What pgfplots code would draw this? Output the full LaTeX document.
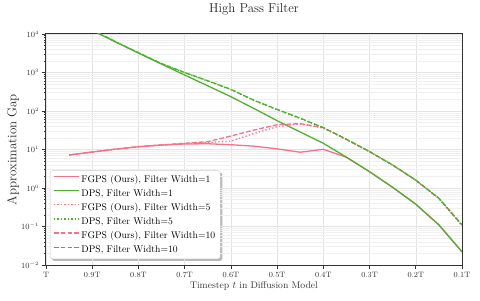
\documentclass[border=0pt]{standalone}
\usepackage{pgfplots}
\pgfplotsset{compat=1.18}
\pgfdeclarelayer{background}
\pgfsetlayers{background,main}
\definecolor{cpink}{HTML}{F77189}
\definecolor{cgreen}{HTML}{50B131}
\newcommand{\lf}{\fontsize{9.7}{11}\selectfont}
\begin{document}
\begin{tikzpicture}[x=1bp,y=1bp]
\path[use as bounding box] (0,0) rectangle (480,300);
\begin{axis}[
  at={(46bp,35bp)}, anchor=south west,
  scale only axis, width=416bp, height=231bp,
  ymode=log, xmin=0.1, xmax=1, ymin=1e-2, ymax=1e4,
  x dir=reverse,
  xtick={1,0.9,0.8,0.7,0.6,0.5,0.4,0.3,0.2,0.1},
  xticklabels={T,0.9T,0.8T,0.7T,0.6T,0.5T,0.4T,0.3T,0.2T,0.1T},
  ytick={1e-2,1e-1,1,10,100,1000,10000},
  tick label style={font=\fontsize{7.8}{9}\selectfont, text=black!80},
  tick align=outside, tick pos=left,
  major tick length=3.5bp, minor tick length=2bp,
  every tick/.style={black!80, line width=0.6pt},
  grid=both,
  major grid style={gray!22, line width=0.4pt},
  minor grid style={gray!12, line width=0.3pt},
  xminorgrids=false,
  axis line style={black!80, line width=1pt},
  title={High Pass Filter},
  title style={font=\fontsize{12.9}{14}\selectfont, at={(axis description cs:0.5,1.0823)}, anchor=center, text=black!85},
  xlabel={Timestep $t$ in Diffusion Model},
  xlabel style={font=\fontsize{9.7}{11}\selectfont, at={(axis description cs:0.5,-0.0909)}, anchor=center, text=black!80},
  ylabel={Approximation Gap},
  ylabel style={font=\fontsize{13}{14}\selectfont, at={(axis description cs:-0.0793,0.5)}, anchor=center, text=black!85},
  legend style={name=leg, at={(axis description cs:0.0096,0.026)}, anchor=south west, font=\lf,
    draw=gray!40, fill=white, rounded corners=2.5pt,
    row sep=1.6bp, column sep=0bp, inner xsep=3bp, inner ysep=2.5bp,
    nodes={font=\lf, inner sep=2bp, text depth=0.15em}},
  legend cell align=left,
  legend image code/.code={\draw[#1, line width=1.3pt] (0bp,0.3em) -- (22bp,0.3em); \path (0bp,0.3em) -- (25bp,0.3em);},
  clip=true,
]
\addplot[cpink, line width=1.3pt] coordinates {
(0.95,7.2) (0.9,8.6) (0.85,10.2) (0.8,11.8) (0.75,13.0) (0.7,13.9) (0.65,14.1) (0.6,13.3) (0.55,12.2) (0.5,10.4) (0.45,8.5) (0.4,10.1) (0.35,6.3) (0.3,2.65) (0.25,1.04) (0.2,0.38) (0.15,0.11) (0.1,0.022)};
\addlegendentry{\lf FGPS (Ours), Filter Width=1}
\addplot[cgreen, line width=1.3pt] coordinates {
(0.95,30000) (0.9,12500) (0.85,6300) (0.8,3200) (0.75,1650) (0.7,860) (0.65,450) (0.6,235) (0.55,116) (0.5,56) (0.45,28.5) (0.4,14.5) (0.35,6.3) (0.3,2.65) (0.25,1.04) (0.2,0.38) (0.15,0.11) (0.1,0.022)};
\addlegendentry{\lf DPS, Filter Width=1}
\addplot[cpink, line width=1.3pt, dash pattern=on 1.3pt off 2.2pt] coordinates {
(0.95,7.2) (0.9,8.6) (0.85,10.2) (0.8,11.8) (0.75,13.1) (0.7,14.2) (0.65,15.2) (0.6,16.5) (0.55,26) (0.5,39) (0.45,46) (0.4,36) (0.35,18.2) (0.3,8.7) (0.25,3.9) (0.2,1.58) (0.15,0.53) (0.1,0.105)};
\addlegendentry{\lf FGPS (Ours), Filter Width=5}
\addplot[cgreen, line width=1.3pt, dash pattern=on 1.3pt off 2.2pt] coordinates {
(0.95,30000) (0.9,12500) (0.85,6300) (0.8,3250) (0.75,1700) (0.7,990) (0.65,600) (0.6,360) (0.55,188) (0.5,108) (0.45,64) (0.4,36.5) (0.35,18.3) (0.3,8.8) (0.25,3.95) (0.2,1.6) (0.15,0.54) (0.1,0.108)};
\addlegendentry{\lf DPS, Filter Width=5}
\addplot[cpink, line width=1.3pt, dash pattern=on 4.8pt off 2.1pt] coordinates {
(0.95,7.2) (0.9,8.6) (0.85,10.2) (0.8,11.9) (0.75,13.2) (0.7,14.5) (0.65,16.0) (0.6,22.4) (0.55,32) (0.5,44) (0.45,47) (0.4,37) (0.35,18.4) (0.3,8.8) (0.25,3.95) (0.2,1.6) (0.15,0.54) (0.1,0.11)};
\addlegendentry{\lf FGPS (Ours), Filter Width=10}
\addplot[cgreen, line width=1.3pt, dash pattern=on 4.8pt off 2.1pt] coordinates {
(0.95,30000) (0.9,12500) (0.85,6300) (0.8,3250) (0.75,1700) (0.7,1000) (0.65,610) (0.6,365) (0.55,190) (0.5,110) (0.45,65) (0.4,37) (0.35,18.4) (0.3,8.8) (0.25,3.95) (0.2,1.6) (0.15,0.54) (0.1,0.11)};
\addlegendentry{\lf DPS, Filter Width=10}
\end{axis}
\begin{pgfonlayer}{background}
\fill[gray!55, rounded corners=2.5pt] ([shift={(2bp,-2bp)}]leg.south west) rectangle ([shift={(2bp,-2bp)}]leg.north east);
\end{pgfonlayer}
\end{tikzpicture}
\end{document}
